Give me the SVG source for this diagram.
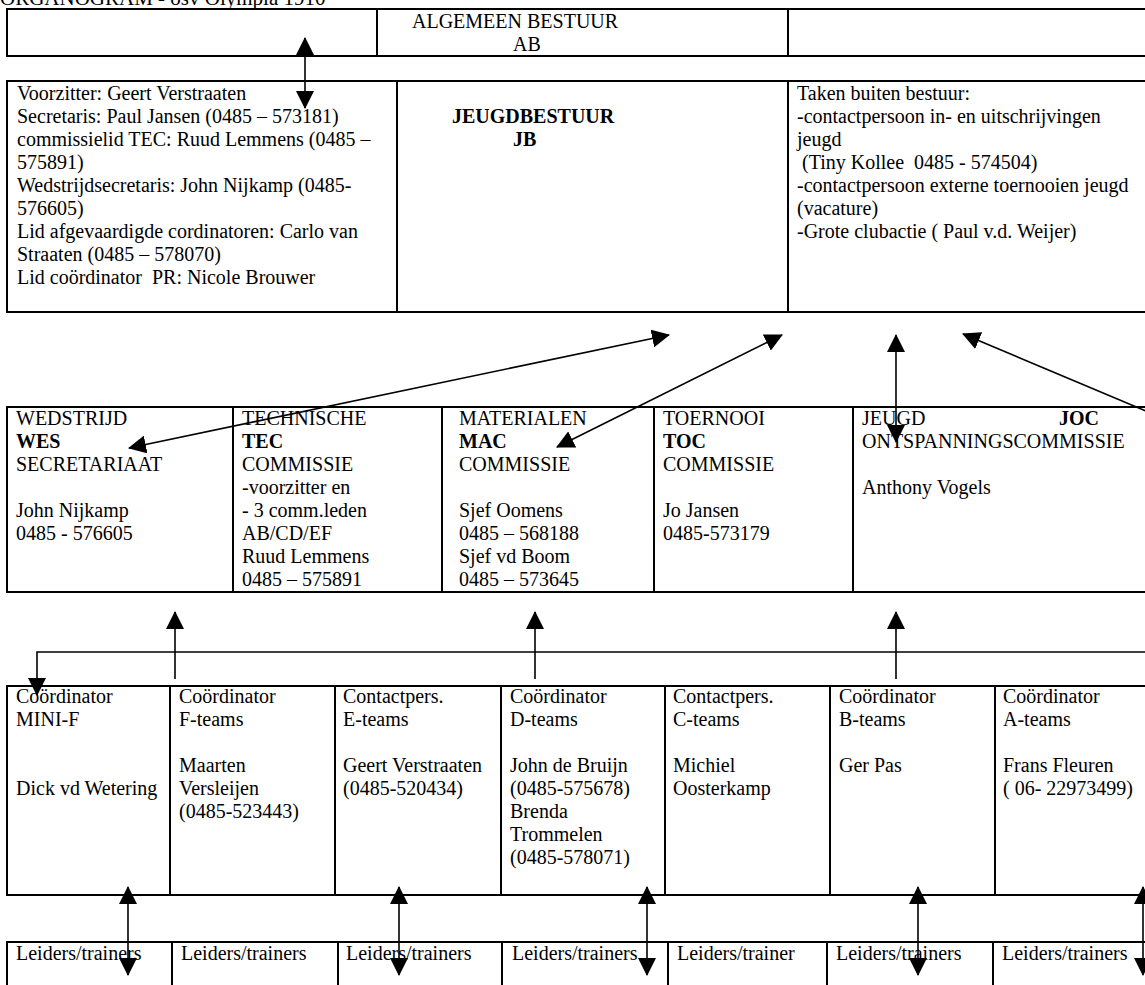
<svg xmlns="http://www.w3.org/2000/svg" width="1145" height="985" viewBox="0 0 1145 985">
<style>
text{font-family:"Liberation Serif","Times New Roman",serif;font-size:20px;fill:#000}
.b{font-weight:bold}
.cell{fill:#fff;stroke:#000;stroke-width:2}
.con{fill:none;stroke:#000;stroke-width:1.6}
</style>
<defs>
<marker id="ah" markerUnits="userSpaceOnUse" markerWidth="18" markerHeight="18" refX="17" refY="9" orient="auto-start-reverse">
<path d="M0,0 L18,9 L0,18 z" fill="#000"/>
</marker>
</defs>
<rect width="1145" height="985" fill="#fff"/>
<text x="0" y="5" style="font-size:21px">ORGANOGRAM - osv Olympia 1910</text>

<g id="ab-left"><rect class="cell" x="7" y="9" width="370" height="47"/></g>
<g id="ab"><rect class="cell" x="377" y="9" width="411" height="47"/>
<text x="412" y="28">ALGEMEEN BESTUUR</text><text x="513" y="51">AB</text></g>
<g id="ab-right"><rect class="cell" x="788" y="9" width="380" height="47"/></g>

<g id="jb-leden"><rect class="cell" x="7" y="81" width="390" height="231"/>
<text x="17" y="100">Voorzitter: Geert Verstraaten</text>
<text x="17" y="123">Secretaris: Paul Jansen (0485 – 573181)</text>
<text x="17" y="146">commissielid TEC: Ruud Lemmens (0485 –</text>
<text x="17" y="169">575891)</text>
<text x="17" y="192">Wedstrijdsecretaris: John Nijkamp (0485-</text>
<text x="17" y="215">576605)</text>
<text x="17" y="238">Lid afgevaardigde cordinatoren: Carlo van</text>
<text x="17" y="261">Straaten (0485 – 578070)</text>
<text x="17" y="284" xml:space="preserve">Lid coördinator  PR: Nicole Brouwer</text></g>
<g id="jb"><rect class="cell" x="397" y="81" width="391" height="231"/>
<text class="b" x="452" y="123">JEUGDBESTUUR</text><text class="b" x="513" y="146">JB</text></g>
<g id="jb-taken"><rect class="cell" x="788" y="81" width="380" height="231"/>
<text x="797" y="100">Taken buiten bestuur:</text>
<text x="797" y="123">-contactpersoon in- en uitschrijvingen</text>
<text x="797" y="146">jeugd</text>
<text x="797" y="169" xml:space="preserve"> (Tiny Kollee  0485 - 574504)</text>
<text x="797" y="192">-contactpersoon externe toernooien jeugd</text>
<text x="797" y="215">(vacature)</text>
<text x="797" y="238">-Grote clubactie ( Paul v.d. Weijer)</text></g>

<g id="wes"><rect class="cell" x="7" y="407" width="226" height="185"/>
<text x="16" y="425">WEDSTRIJD</text><text class="b" x="16" y="448">WES</text><text x="16" y="471">SECRETARIAAT</text>
<text x="16" y="517">John Nijkamp</text><text x="16" y="540">0485 - 576605</text></g>
<g id="tec"><rect class="cell" x="233" y="407" width="209" height="185"/>
<text x="242" y="425">TECHNISCHE</text><text class="b" x="242" y="448">TEC</text><text x="242" y="471">COMMISSIE</text>
<text x="242" y="494">-voorzitter en</text><text x="242" y="517">- 3 comm.leden</text><text x="242" y="540">AB/CD/EF</text>
<text x="242" y="563">Ruud Lemmens</text><text x="242" y="586">0485 – 575891</text></g>
<g id="mac"><rect class="cell" x="442" y="407" width="212" height="185"/>
<text x="459" y="425">MATERIALEN</text><text class="b" x="459" y="448">MAC</text><text x="459" y="471">COMMISSIE</text>
<text x="459" y="517">Sjef Oomens</text><text x="459" y="540">0485 – 568188</text>
<text x="459" y="563">Sjef vd Boom</text><text x="459" y="586">0485 – 573645</text></g>
<g id="toc"><rect class="cell" x="654" y="407" width="199" height="185"/>
<text x="663" y="425">TOERNOOI</text><text class="b" x="663" y="448">TOC</text><text x="663" y="471">COMMISSIE</text>
<text x="663" y="517">Jo Jansen</text><text x="663" y="540">0485-573179</text></g>
<g id="joc"><rect class="cell" x="853" y="407" width="315" height="185"/>
<text x="862" y="425">JEUGD</text><text class="b" x="1059" y="425">JOC</text><text x="862" y="448">ONTSPANNINGSCOMMISSIE</text>
<text x="862" y="494">Anthony Vogels</text></g>

<g id="mini-f"><rect class="cell" x="7" y="686" width="163" height="209"/>
<text x="16" y="703">Coördinator</text><text x="16" y="726">MINI-F</text><text x="16" y="795">Dick vd Wetering</text></g>
<g id="f-teams"><rect class="cell" x="170" y="686" width="165" height="209"/>
<text x="179" y="703">Coördinator</text><text x="179" y="726">F-teams</text>
<text x="179" y="772">Maarten</text><text x="179" y="795">Versleijen</text><text x="179" y="818">(0485-523443)</text></g>
<g id="e-teams"><rect class="cell" x="335" y="686" width="166" height="209"/>
<text x="343" y="703">Contactpers.</text><text x="343" y="726">E-teams</text>
<text x="343" y="772">Geert Verstraaten</text><text x="343" y="795">(0485-520434)</text></g>
<g id="d-teams"><rect class="cell" x="501" y="686" width="164" height="209"/>
<text x="510" y="703">Coördinator</text><text x="510" y="726">D-teams</text>
<text x="510" y="772">John de Bruijn</text><text x="510" y="795">(0485-575678)</text>
<text x="510" y="818">Brenda</text><text x="510" y="841">Trommelen</text><text x="510" y="864">(0485-578071)</text></g>
<g id="c-teams"><rect class="cell" x="665" y="686" width="165" height="209"/>
<text x="673" y="703">Contactpers.</text><text x="673" y="726">C-teams</text>
<text x="673" y="772">Michiel</text><text x="673" y="795">Oosterkamp</text></g>
<g id="b-teams"><rect class="cell" x="830" y="686" width="165" height="209"/>
<text x="839" y="703">Coördinator</text><text x="839" y="726">B-teams</text>
<text x="839" y="772">Ger Pas</text></g>
<g id="a-teams"><rect class="cell" x="995" y="686" width="173" height="209"/>
<text x="1003" y="703">Coördinator</text><text x="1003" y="726">A-teams</text>
<text x="1003" y="772">Frans Fleuren</text><text x="1003" y="795">( 06- 22973499)</text></g>

<g id="lt-1"><rect class="cell" x="7" y="942" width="165" height="60"/><text x="16" y="960">Leiders/trainers</text></g>
<g id="lt-2"><rect class="cell" x="172" y="942" width="166" height="60"/><text x="181" y="960">Leiders/trainers</text></g>
<g id="lt-3"><rect class="cell" x="338" y="942" width="164" height="60"/><text x="346" y="960">Leiders/trainers</text></g>
<g id="lt-4"><rect class="cell" x="502" y="942" width="166" height="60"/><text x="512" y="960">Leiders/trainers</text></g>
<g id="lt-5"><rect class="cell" x="668" y="942" width="159" height="60"/><text x="677" y="960">Leiders/trainer</text></g>
<g id="lt-6"><rect class="cell" x="827" y="942" width="166" height="60"/><text x="836" y="960">Leiders/trainers</text></g>
<g id="lt-7"><rect class="cell" x="993" y="942" width="175" height="60"/><text x="1002" y="960">Leiders/trainers</text></g>

<g id="connectors">
<line class="con" x1="305" y1="38" x2="305" y2="108" marker-start="url(#ah)" marker-end="url(#ah)"/>
<line class="con" x1="129" y1="448" x2="669" y2="335" marker-start="url(#ah)" marker-end="url(#ah)"/>
<line class="con" x1="557" y1="447" x2="782" y2="335" marker-start="url(#ah)" marker-end="url(#ah)"/>
<line class="con" x1="896" y1="335" x2="896" y2="442" marker-start="url(#ah)" marker-end="url(#ah)"/>
<line class="con" x1="963" y1="334" x2="1160" y2="417" marker-start="url(#ah)"/>
<polyline class="con" points="1160,652 37,652 37,695" marker-end="url(#ah)"/>
<line class="con" x1="175" y1="679" x2="175" y2="612" marker-end="url(#ah)"/>
<line class="con" x1="535" y1="679" x2="535" y2="612" marker-end="url(#ah)"/>
<line class="con" x1="896" y1="679" x2="896" y2="612" marker-end="url(#ah)"/>
<line class="con" x1="128" y1="887" x2="128" y2="975" marker-start="url(#ah)" marker-end="url(#ah)"/>
<line class="con" x1="399" y1="887" x2="399" y2="975" marker-start="url(#ah)" marker-end="url(#ah)"/>
<line class="con" x1="647" y1="887" x2="647" y2="975" marker-start="url(#ah)" marker-end="url(#ah)"/>
<line class="con" x1="918" y1="887" x2="918" y2="975" marker-start="url(#ah)" marker-end="url(#ah)"/>
<line class="con" x1="1143" y1="887" x2="1143" y2="975" marker-start="url(#ah)" marker-end="url(#ah)"/>
</g>
</svg>
